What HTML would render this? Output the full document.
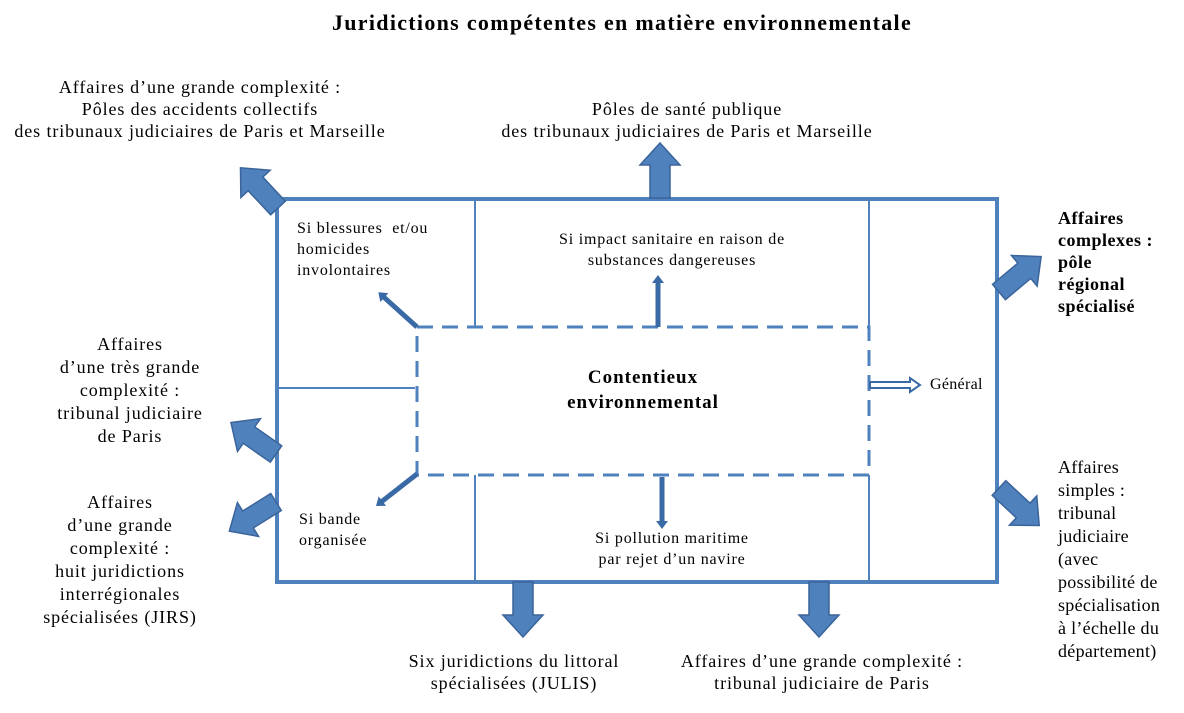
<!DOCTYPE html>
<html><head><meta charset="utf-8"><style>
body{margin:0;width:1184px;height:713px;background:#fff;overflow:hidden;position:relative;font-family:"Liberation Serif",serif;color:#000}
.t{position:absolute;text-align:center;font-size:18px;line-height:22px;white-space:nowrap;letter-spacing:0.9px}
.s{font-size:16px;line-height:20px;letter-spacing:0.8px}
svg{position:absolute;left:0;top:0}
</style></head><body>
<svg width="1184" height="713" viewBox="0 0 1184 713">
<defs>
<polygon id="ba" points="0,-10 33,-10 33,-20 55,0 33,20 33,10 0,10" fill="#4F81BD" stroke="#3A649A" stroke-width="1.5"/>
<polygon id="sa" points="0,-2.5 44,-2.5 44,-6 52,0 44,6 44,2.5 0,2.5" fill="#3A6AA5"/>
</defs>
<g stroke="#4F81BD" fill="none">
<rect x="277" y="199" width="720" height="383" stroke-width="4"/>
<line x1="475" y1="199" x2="475" y2="327" stroke-width="2"/>
<line x1="869" y1="199" x2="869" y2="327" stroke-width="2"/>
<line x1="475" y1="475" x2="475" y2="582" stroke-width="2"/>
<line x1="869" y1="475" x2="869" y2="582" stroke-width="2"/>
<line x1="277" y1="388" x2="415" y2="388" stroke-width="2"/>
<rect x="417" y="327" width="452" height="148" stroke-width="3" stroke-dasharray="16,9"/>
</g>
<use href="#ba" transform="translate(660,198) rotate(-90)"/>
<use href="#ba" transform="translate(278,208) rotate(-133)"/>
<use href="#ba" transform="translate(999,292) rotate(-40)"/>
<use href="#ba" transform="translate(999,488) rotate(43)"/>
<use href="#ba" transform="translate(276,454) rotate(-145)"/>
<use href="#ba" transform="translate(276,502) rotate(148)"/>
<use href="#ba" transform="translate(523,582) rotate(90)"/>
<use href="#ba" transform="translate(819,582) rotate(90)"/>
<use href="#sa" transform="translate(417,327) rotate(-138)"/>
<use href="#sa" transform="translate(658,327) rotate(-90)"/>
<use href="#sa" transform="translate(417,474) rotate(142)"/>
<use href="#sa" transform="translate(662,477) rotate(90)"/>
<polygon points="870,382 910,382 910,378 920,385 910,392 910,388 870,388" fill="#fff" stroke="#3A6AA5" stroke-width="2"/>
</svg>
<div class="t" style="left:0;width:1244px;top:10px;font-size:22px;font-weight:bold;line-height:26px;letter-spacing:1.3px">Juridictions compétentes en matière environnementale</div>
<div class="t" style="left:0;width:400px;top:76px">Affaires d’une grande complexité :<br>Pôles des accidents collectifs<br>des tribunaux judiciaires de Paris et Marseille</div>
<div class="t" style="left:487px;width:400px;top:98px">Pôles de santé publique<br>des tribunaux judiciaires de Paris et Marseille</div>
<div class="t" style="left:1058px;top:207px;text-align:left;font-weight:bold;line-height:22px;letter-spacing:0.5px">Affaires<br>complexes :<br>pôle<br>régional<br>spécialisé</div>
<div class="t" style="left:1058px;top:456px;text-align:left;line-height:23px;letter-spacing:0.3px">Affaires<br>simples :<br>tribunal<br>judiciaire<br>(avec<br>possibilité de<br>spécialisation<br>à l’échelle du<br>département)</div>
<div class="t" style="left:30px;width:200px;top:333px;line-height:23px">Affaires<br>d’une très grande<br>complexité :<br>tribunal judiciaire<br>de Paris</div>
<div class="t" style="left:20px;width:200px;top:491px;line-height:23px">Affaires<br>d’une grande<br>complexité :<br>huit juridictions<br>interrégionales<br>spécialisées (JIRS)</div>
<div class="t" style="left:364px;width:300px;top:650px">Six juridictions du littoral<br>spécialisées (JULIS)</div>
<div class="t" style="left:672px;width:300px;top:650px">Affaires d’une grande complexité :<br>tribunal judiciaire de Paris</div>
<div class="t s" style="left:297px;top:218px;text-align:left;line-height:21px">Si blessures&nbsp; et/ou<br>homicides<br>involontaires</div>
<div class="t s" style="left:475px;width:394px;top:229px;line-height:21px">Si impact sanitaire en raison de<br>substances dangereuses</div>
<div class="t" style="left:417px;width:452px;top:365px;font-weight:bold;font-size:19px;line-height:25px;letter-spacing:1px">Contentieux<br>environnemental</div>
<div class="t s" style="left:930px;top:375px;letter-spacing:0.3px">Général</div>
<div class="t s" style="left:299px;top:509px;text-align:left;line-height:21px">Si bande<br>organisée</div>
<div class="t s" style="left:475px;width:394px;top:528px;line-height:21px">Si pollution maritime<br>par rejet d’un navire</div>
</body></html>
